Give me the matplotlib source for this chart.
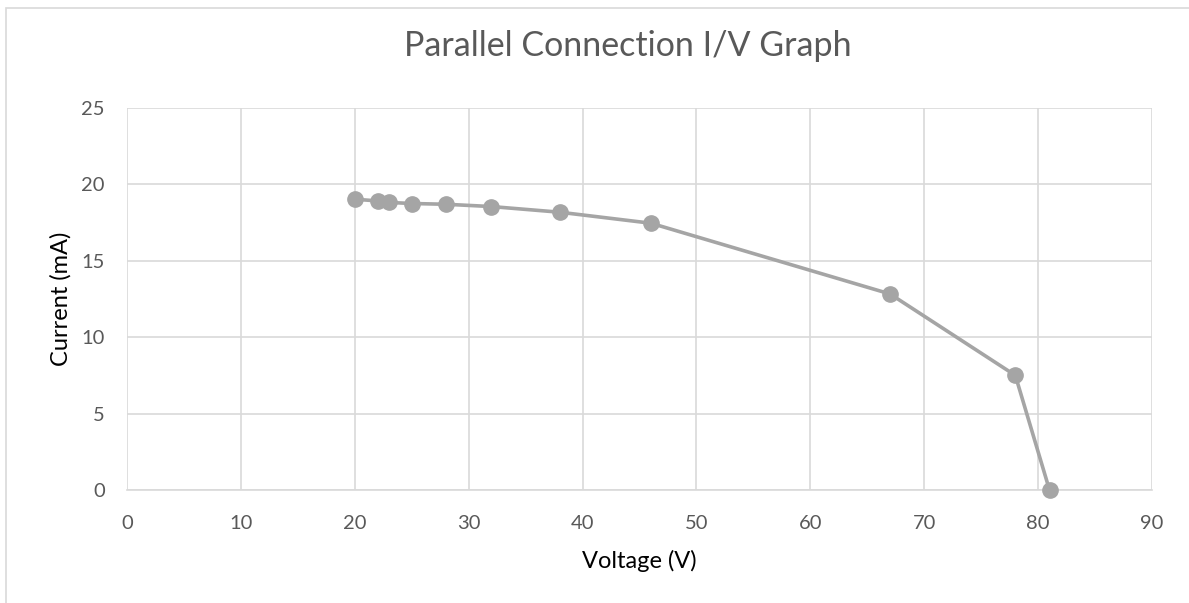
import matplotlib.pyplot as plt
from matplotlib.patches import Rectangle

# data
voltage = [20, 22, 23, 25, 28, 32, 38, 46, 67, 78, 81]
current = [19.03, 18.92, 18.82, 18.75, 18.70, 18.55, 18.18, 17.46, 12.83, 7.5, 0]
x_ticks = [0, 10, 20, 30, 40, 50, 60, 70, 80, 90]
y_ticks = [0, 5, 10, 15, 20, 25]

plt.rcParams['font.family'] = ['Lato', 'DejaVu Sans']

fig = plt.figure(figsize=(11.89, 6.03), dpi=100)
ax = fig.add_axes([127 / 1189, 113 / 603, 1025 / 1189, 382 / 603])

ax.plot(voltage, current, color='#A5A5A5', linewidth=2.6, marker='o',
        markersize=11, markerfacecolor='#A5A5A5', markeredgecolor='#A5A5A5',
        zorder=3, clip_on=False)

ax.set_xlim(0, 90)
ax.set_ylim(0, 25)
ax.set_xticks(x_ticks)
ax.set_yticks(y_ticks)
ax.grid(True, color='#D9D9D9', linewidth=1.2)
ax.set_axisbelow(True)
for side in ['top', 'right', 'left']:
    ax.spines[side].set_visible(False)
ax.spines['bottom'].set_color('#D9D9D9')
ax.spines['bottom'].set_linewidth(1.2)
ax.tick_params(length=0, labelsize=14.5, labelcolor='#595959')
ax.tick_params(axis='x', pad=18)
ax.tick_params(axis='y', pad=16)

ax.set_xlabel('Voltage (V)', fontsize=17, color='#000000', labelpad=13)
ax.set_ylabel('Current (mA)', fontsize=17, color='#000000', labelpad=7)
fig.text(0.528, 1 - 46 / 603, 'Parallel Connection I/V Graph', fontsize=24.5,
         color='#595959', ha='center', va='center')

# chart border (top and left edges visible in the reference)
fig.patches.append(Rectangle((6 / 1189, -0.01), 1.0, 1 - 8 / 603 + 0.01,
                             transform=fig.transFigure, fill=False,
                             edgecolor='#D9D9D9', linewidth=1.2))

fig.savefig('out.png', dpi=100)
